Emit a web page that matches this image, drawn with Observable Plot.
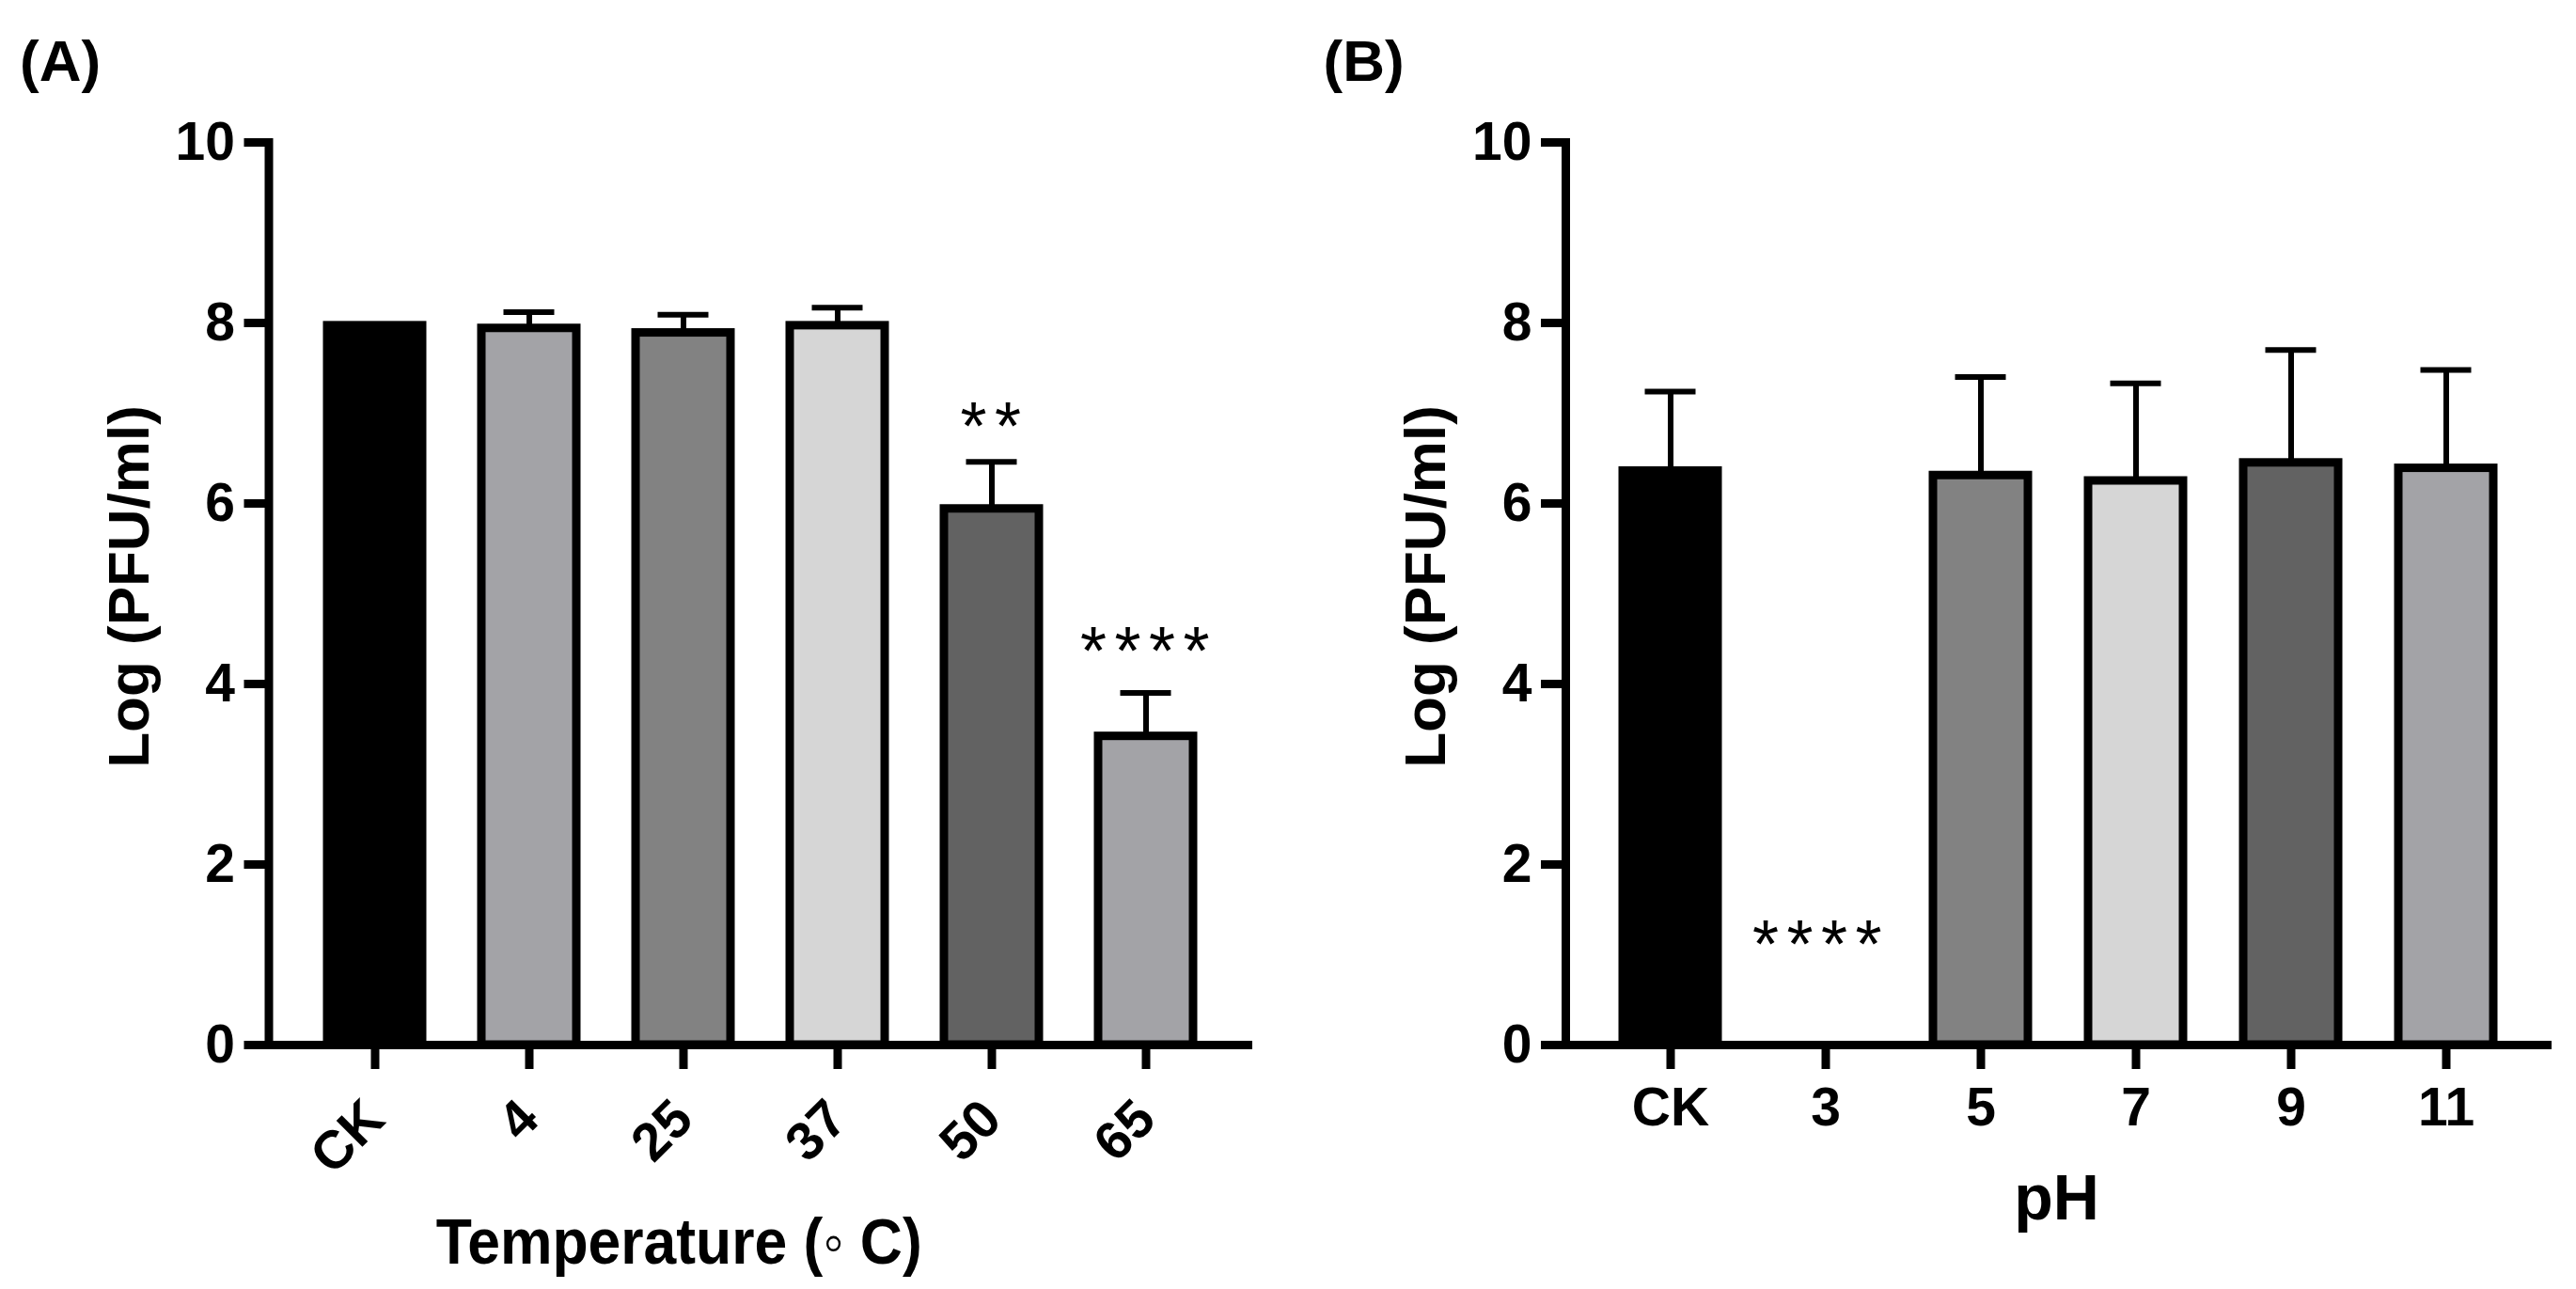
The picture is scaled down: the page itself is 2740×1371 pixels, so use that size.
<!DOCTYPE html>
<html>
<head>
<meta charset="utf-8">
<script src="https://cdn.jsdelivr.net/npm/d3@7"></script>
<script src="https://cdn.jsdelivr.net/npm/@observablehq/plot@0.6"></script>
<style>
html, body { margin: 0; padding: 0; background: #fff; }
#wrap { position: relative; width: 2740px; height: 1371px; overflow: hidden; background: #fff; }
#wrap > div { position: absolute; top: 0; }
</style>
</head>
<body>
<div id="wrap"><div id="panelA" style="left:0px"></div><div id="panelB" style="left:1370px"></div></div>
<script>
// ---- Data ----
const yTicks = [0, 2, 4, 6, 8, 10];

// Panel A: temperature
const tempCategories = ["CK", "4", "25", "37", "50", "65"];
const tempMeans      = [7.97, 7.94, 7.89, 7.97, 5.94, 3.42];
const tempSDs        = [0,    0.18, 0.20, 0.20, 0.52, 0.48];
const tempColors     = ["#000000", "#a3a3a7", "#828282", "#d6d6d6", "#626262", "#a3a3a7"];
const tempStars      = ["", "", "", "", "**", "****"];
const tempStarsY     = [null, null, null, null, 6.60, 4.11];

// Panel B: pH
const phCategories = ["CK", "3", "5", "7", "9", "11"];
const phMeans      = [6.36, 0, 6.31, 6.25, 6.45, 6.39];
const phSDs        = [0.88, 0, 1.09, 1.08, 1.25, 1.09];
const phColors     = ["#000000", "#a3a3a7", "#828282", "#d6d6d6", "#626262", "#a3a3a7"];
const phStars      = ["", "****", "", "", "", ""];
const phStarsY     = [null, 0.86, null, null, null, null];

const yLabel = "Log (PFU/ml)";
const FONT = "'Liberation Sans', Arial, Helvetica, sans-serif";

function makePanel(cfg) {
  const rows = cfg.cats.map((c, i) => ({
    cat: c, mean: cfg.means[i], sd: cfg.sds[i], color: cfg.colors[i],
    star: cfg.stars[i], starY: cfg.starsY[i]
  }));
  const bars = rows.filter(d => d.mean > 0);
  const errs = rows.filter(d => d.sd > 0);
  const stars = rows.filter(d => d.star);
  const svg = Plot.plot({
    width: 1370,
    height: 1371,
    marginTop: 151,
    marginBottom: 260,
    marginLeft: cfg.ml,
    marginRight: cfg.mr,
    style: { fontFamily: FONT, background: "white", overflow: "visible", color: "black" },
    x: { domain: cfg.cats, paddingInner: 0.387, paddingOuter: 0.37, axis: null, label: null },
    y: { domain: [0, 10], axis: null, label: null },
    color: { type: "identity" },
    marks: [
      Plot.axisY({ ticks: yTicks, tickSize: 26, tickPadding: 10, fontSize: 57, fontWeight: "bold",
                   strokeWidth: 9, label: null, tickFormat: d => String(d) }),
      Plot.axisX({ tickSize: 26, tickPadding: cfg.tickPadding, tickRotate: cfg.rotate, fontSize: 57,
                   fontWeight: "bold", strokeWidth: 9, label: null }),
      Plot.ruleX(errs, { x: "cat", y1: "mean", y2: d => d.mean + d.sd, stroke: "black", strokeWidth: 6 }),
      Plot.barY(bars, { x: "cat", y: "mean", fill: "color", stroke: "black", strokeWidth: 9 }),
      Plot.tickY(errs, { x: "cat", y: d => d.mean + d.sd, stroke: "black", strokeWidth: 6,
                         insetLeft: 23.5, insetRight: 23.5 }),
      Plot.frame({ anchor: "left", stroke: "black", strokeWidth: 9 }),
      Plot.ruleY([0], { stroke: "black", strokeWidth: 9 }),
      Plot.text(stars, { x: "cat", y: "starY", text: "star", fontSize: 72, fontWeight: "normal",
                         lineAnchor: "bottom", dx: cfg.starDx, fill: "black" }),
      Plot.text([yLabel], { text: d => d, frameAnchor: "left", textAnchor: "middle", lineAnchor: "middle",
                            rotate: -90, dx: cfg.yLabelDx, dy: -7.5,
                            fontSize: 62, fontWeight: "bold", fill: "black" }),
      Plot.text([cfg.xLabel], { text: d => d, frameAnchor: "bottom", textAnchor: "middle", dx: cfg.xLabelDx, dy: cfg.xLabelDy,
                                lineAnchor: "bottom", fontSize: 68, fontWeight: "bold", fill: "black" }),
      Plot.text([cfg.letter], { text: d => d, frameAnchor: "top-left", dx: cfg.letterDx, dy: -66,
                                textAnchor: "start", lineAnchor: "bottom", fontSize: 62, fontWeight: "bold", fill: "black" })
    ]
  });
  // fine-tune text widths / spacing
  svg.querySelectorAll("text").forEach(t => {
    const s = t.textContent;
    if (s === cfg.xLabel && cfg.xLabelLen) { t.setAttribute("textLength", cfg.xLabelLen); t.setAttribute("lengthAdjust", "spacingAndGlyphs"); }
    else if (/^\*+$/.test(s)) { t.style.letterSpacing = "8.5px"; }
  });
  return svg;
}

document.getElementById("panelA").appendChild(makePanel({
  cats: tempCategories, means: tempMeans, sds: tempSDs, colors: tempColors,
  stars: tempStars, starsY: tempStarsY, starDx: 3,
  ml: 285.5, mr: 38, tickPadding: 43, rotate: -45,
  xLabel: "Temperature (\u25E6 C)", xLabelDx: -87, xLabelDy: 232, xLabelLen: 517,
  yLabelDx: -147.5, letter: "(A)", letterDx: -265
}));
document.getElementById("panelB").appendChild(makePanel({
  cats: phCategories, means: phMeans, sds: phSDs, colors: phColors,
  stars: phStars, starsY: phStarsY, starDx: -5,
  ml: 295, mr: 26, tickPadding: 19, rotate: 0,
  xLabel: "pH", xLabelDx: -2.5, xLabelDy: 185, xLabelLen: null,
  yLabelDx: -148, letter: "(B)", letterDx: -258
}));
</script>
</body>
</html>
